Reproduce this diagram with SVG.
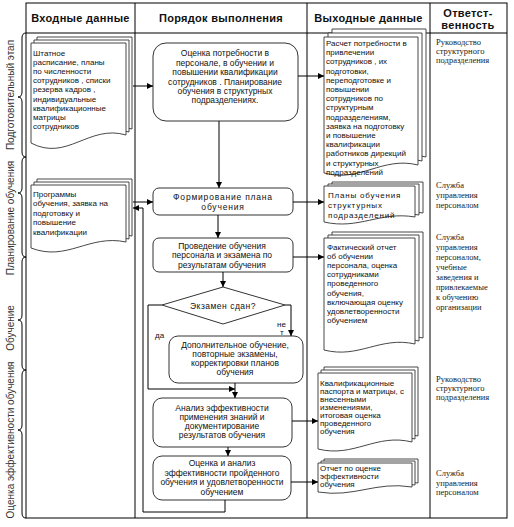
<svg xmlns="http://www.w3.org/2000/svg" width="514" height="527" viewBox="0 0 514 527">
<defs>
<style>
.fr{stroke:#000;stroke-width:1;fill:none}
.bx{fill:#fff;stroke:#333;stroke-width:1}
.pg{fill:#fff;stroke:#333;stroke-width:0.9}
.cn{stroke:#000;stroke-width:1;fill:none}
.t{font-family:"Liberation Sans",Arial,sans-serif;font-size:8px;fill:#111}
.tb{font-family:"Liberation Sans",Arial,sans-serif;font-size:8.5px;fill:#111;text-anchor:middle}
.h{font-family:"Liberation Sans",Arial,sans-serif;font-size:11px;font-weight:bold;fill:#111;text-anchor:middle;letter-spacing:0.3px}
.r{font-family:"Liberation Serif","Times New Roman",serif;font-size:8.5px;fill:#222}
.v{font-family:"Liberation Sans",Arial,sans-serif;font-size:10px;fill:#333;text-anchor:middle}
</style>
<marker id="ar" markerWidth="6" markerHeight="6" refX="6" refY="3" orient="auto" markerUnits="userSpaceOnUse">
<path d="M0,0 L6,3 L0,6 z" fill="#000"/>
</marker>
</defs>
<rect width="514" height="527" fill="#fff"/>

<g id="table">
<rect class="fr" x="26" y="3" width="481" height="515"/>
<line class="fr" x1="26" y1="33" x2="507" y2="33"/>
<line class="fr" x1="135" y1="3" x2="135" y2="518"/>
<line class="fr" x1="307" y1="3" x2="307" y2="518"/>
<line class="fr" x1="430" y1="3" x2="430" y2="518"/>
<text class="h" x="80.5" y="22">Входные данные</text>
<text class="h" x="221" y="22">Порядок выполнения</text>
<text class="h" x="368.5" y="22">Выходные данные</text>
<text class="h" x="468" y="17">Ответст-</text>
<text class="h" x="468" y="29">венность</text>
</g>

<g id="stages">
<path class="fr" d="M26,33 Q22,33 22,38 V92 Q22,97 18,97 Q22,97 22,102 V152 Q22,157 26,157 M26,157 Q22,157 22,162 V188 Q22,193 18,193 Q22,193 22,198 V252 Q22,257 26,257 M26,257 Q22,257 22,262 V315 Q22,320 18,320 Q22,320 22,325 V365 Q22,370 26,370 M26,370 Q22,370 22,375 V425 Q22,430 18,430 Q22,430 22,435 V513 Q22,518 26,518"/>
<text class="v" transform="translate(13.5,95) rotate(-90)">Подготовительный этап</text>
<text class="v" transform="translate(13.5,218) rotate(-90)">Планирование обучения</text>
<text class="v" transform="translate(13.5,328) rotate(-90)">Обучение</text>
<text class="v" transform="translate(13.5,440) rotate(-90)">Оценка эффективности обучения</text>
</g>

<g id="in1">
<path class="pg" d="M37,37 H132 V129 C95,118 73,156 37,137 Z"/>
<path class="pg" d="M34,40 H129 V132 C92,121 70,159 34,140 Z"/>
<path class="pg" d="M31,43 H126 V135 C89,124 67,162 31,143 Z"/>
<text class="t" x="33" y="56">Штатное</text>
<text class="t" x="33" y="65">расписание, планы</text>
<text class="t" x="33" y="74">по численности</text>
<text class="t" x="33" y="83">сотрудников , списки</text>
<text class="t" x="33" y="92">резерва кадров ,</text>
<text class="t" x="33" y="102">индивидуальные</text>
<text class="t" x="33" y="111">квалификационные</text>
<text class="t" x="33" y="120">матрицы</text>
<text class="t" x="33" y="129">сотрудников</text>
</g>

<g id="in2">
<path class="pg" d="M37,179 H132 V236 C95,228 73,256 37,242 Z"/>
<path class="pg" d="M34,182 H129 V239 C92,231 70,259 34,245 Z"/>
<path class="pg" d="M31,185 H126 V242 C89,234 67,262 31,248 Z"/>
<text class="t" x="33" y="197">Программы</text>
<text class="t" x="33" y="206">обучения, заявка на</text>
<text class="t" x="33" y="216">подготовку и</text>
<text class="t" x="33" y="225">повышение</text>
<text class="t" x="33" y="235">квалификации</text>
</g>

<g id="p1">
<rect class="bx" x="153" y="43" width="145" height="78" rx="13"/>
<text class="tb" x="225" y="56">Оценка потребности в</text>
<text class="tb" x="225" y="66">персонале, в обучении и</text>
<text class="tb" x="225" y="75">повышении квалификации</text>
<text class="tb" x="225" y="85">сотрудников . Планирование</text>
<text class="tb" x="225" y="94">обучения в структурных</text>
<text class="tb" x="225" y="103">подразделениях.</text>
</g>

<g id="p2">
<rect class="bx" x="153" y="188" width="140" height="27" rx="6"/>
<text class="tb" x="223" y="200" style="letter-spacing:0.8px">Формирование плана</text>
<text class="tb" x="223" y="210" style="letter-spacing:0.8px">обучения</text>
</g>

<g id="p3">
<rect class="bx" x="153" y="238" width="140" height="34" rx="6"/>
<text class="tb" x="222" y="249">Проведение обучения</text>
<text class="tb" x="222" y="258">персонала и экзамена по</text>
<text class="tb" x="222" y="268">результатам обучения</text>
</g>

<g id="dec">
<polygon class="bx" points="162,305 223,287 285,305 223,324"/>
<text class="tb" x="223" y="309" style="letter-spacing:0.5px">Экзамен сдан?</text>
</g>

<g id="p4">
<rect class="bx" x="169" y="336" width="134" height="47" rx="9"/>
<text class="tb" x="235" y="348">Дополнительное обучение,</text>
<text class="tb" x="235" y="357">повторные экзамены,</text>
<text class="tb" x="235" y="366">корректировки планов</text>
<text class="tb" x="235" y="375">обучения</text>
</g>

<g id="p5">
<rect class="bx" x="153" y="398" width="139" height="49" rx="9"/>
<text class="tb" x="222" y="411">Анализ эффективности</text>
<text class="tb" x="222" y="420">применения знаний и</text>
<text class="tb" x="222" y="429">документирование</text>
<text class="tb" x="222" y="438">результатов обучения</text>
</g>

<g id="p6">
<rect class="bx" x="153" y="456" width="138" height="44" rx="9"/>
<text class="tb" x="222" y="466">Оценка и анализ</text>
<text class="tb" x="222" y="475.5">эффективности пройденного</text>
<text class="tb" x="222" y="485">обучения и удовлетворенности</text>
<text class="tb" x="222" y="494.5">обучением</text>
</g>

<g id="outA">
<path class="pg" d="M332,29 H426 V157 C390,148 368,175 332,165 Z"/>
<path class="pg" d="M328,33 H422 V161 C386,152 364,179 328,169 Z"/>
<path class="pg" d="M324,37 H418 V165 C382,156 360,183 324,173 Z"/>
<text class="t" x="326" y="46">Расчет потребности в</text>
<text class="t" x="326" y="55">привлечении</text>
<text class="t" x="326" y="64">сотрудников , их</text>
<text class="t" x="326" y="74">подготовки,</text>
<text class="t" x="326" y="83">переподготовке и</text>
<text class="t" x="326" y="92">повышении</text>
<text class="t" x="326" y="101">сотрудников по</text>
<text class="t" x="326" y="110">структурным</text>
<text class="t" x="326" y="120">подразделениям,</text>
<text class="t" x="326" y="129">заявка на подготовку</text>
<text class="t" x="326" y="138">и повышение</text>
<text class="t" x="326" y="147">квалификации</text>
<text class="t" x="326" y="156">работников дирекций</text>
<text class="t" x="326" y="166">и структурных</text>
<text class="t" x="326" y="175">подразделений</text>
</g>

<g id="outB">
<path class="pg" d="M332,182 H423 V213 C388,207 367,226 332,218 Z"/>
<path class="pg" d="M328,184 H419 V215 C384,209 363,228 328,220 Z"/>
<path class="pg" d="M324,186 H415 V217 C380,211 359,230 324,222 Z"/>
<text class="t" x="328" y="198" style="letter-spacing:0.8px">Планы обучения</text>
<text class="t" x="328" y="208" style="letter-spacing:0.8px">структурных</text>
<text class="t" x="328" y="218" style="letter-spacing:0.8px">подразделений</text>
</g>

<g id="outC">
<path class="pg" d="M332,232 H423 V338 C388,330 367,353 332,344 Z"/>
<path class="pg" d="M328,235 H419 V341 C384,333 363,356 328,347 Z"/>
<path class="pg" d="M324,238 H415 V344 C380,336 359,359 324,350 Z"/>
<text class="t" x="327" y="250">Фактический отчет</text>
<text class="t" x="327" y="259">об обучении</text>
<text class="t" x="327" y="268">персонала, оценка</text>
<text class="t" x="327" y="277">сотрудниками</text>
<text class="t" x="327" y="286">проведенного</text>
<text class="t" x="327" y="296">обучения,</text>
<text class="t" x="327" y="305">включающая оценку</text>
<text class="t" x="327" y="314">удовлетворенности</text>
<text class="t" x="327" y="323">обучением</text>
</g>

<g id="outD">
<path class="pg" d="M324,367 H418 V436 C382,427 360,452 324,443 Z"/>
<path class="pg" d="M321,370 H415 V439 C379,430 357,455 321,446 Z"/>
<path class="pg" d="M318,373 H412 V442 C376,433 354,458 318,449 Z"/>
<text class="t" x="320" y="386">Квалификационные</text>
<text class="t" x="320" y="394">паспорта и матрицы, с</text>
<text class="t" x="320" y="402">внесенными</text>
<text class="t" x="320" y="410">изменениями,</text>
<text class="t" x="320" y="418">итоговая оценка</text>
<text class="t" x="320" y="426">проведенного</text>
<text class="t" x="320" y="434">обучения</text>
</g>

<g id="outE">
<path class="pg" d="M324,459 H418 V483 C382,477 360,494 324,488 Z"/>
<path class="pg" d="M321,461 H415 V485 C379,479 357,496 321,490 Z"/>
<path class="pg" d="M318,463 H412 V487 C376,481 354,498 318,492 Z"/>
<text class="t" x="320" y="471">Отчет по оценке</text>
<text class="t" x="320" y="479">эффективности</text>
<text class="t" x="320" y="487">обучения</text>
</g>

<g id="resp">
<text class="r" x="436" y="45">Руководство</text>
<text class="r" x="436" y="54">структурного</text>
<text class="r" x="436" y="63">подразделения</text>
<text class="r" x="436" y="188">Служба</text>
<text class="r" x="436" y="198">управления</text>
<text class="r" x="436" y="208">персоналом</text>
<text class="r" x="436" y="240">Служба</text>
<text class="r" x="436" y="250">управления</text>
<text class="r" x="436" y="260">персоналом,</text>
<text class="r" x="436" y="270">учебные</text>
<text class="r" x="436" y="280">заведения и</text>
<text class="r" x="436" y="290">привлекаемые</text>
<text class="r" x="436" y="300">к обучению</text>
<text class="r" x="436" y="310">организации</text>
<text class="r" x="436" y="382">Руководство</text>
<text class="r" x="436" y="391">структурного</text>
<text class="r" x="436" y="400">подразделения</text>
<text class="r" x="436" y="476">Служба</text>
<text class="r" x="436" y="485.5">управления</text>
<text class="r" x="436" y="495">персоналом</text>
</g>

<g id="connectors">
<path class="cn" d="M133,86 H153" marker-end="url(#ar)"/>
<path class="cn" d="M298,76 H324" marker-end="url(#ar)"/>
<path class="cn" d="M219,121 V188" marker-end="url(#ar)"/>
<path class="cn" d="M133,202 H153" marker-end="url(#ar)"/>
<path class="cn" d="M225,500 V512 H143 V208 H133" marker-end="url(#ar)"/>
<path class="cn" d="M293,202 H324" marker-end="url(#ar)"/>
<path class="cn" d="M218,215 V238" marker-end="url(#ar)"/>
<path class="cn" d="M293,257 H324" marker-end="url(#ar)"/>
<path class="cn" d="M223,272 V287" marker-end="url(#ar)"/>
<path class="cn" d="M285,305 H291 V336" marker-end="url(#ar)"/>
<path class="cn" d="M162,305 H148 V389 H235" marker-end="url(#ar)"/>
<path class="cn" d="M235,383 V398" marker-end="url(#ar)"/>
<path class="cn" d="M292,421 H318" marker-end="url(#ar)"/>
<path class="cn" d="M228,447 V456" marker-end="url(#ar)"/>
<path class="cn" d="M291,482 H318" marker-end="url(#ar)"/>
<text class="t" x="155" y="338">да</text>
<text class="t" x="277" y="327">не</text>
<text class="t" x="280" y="335">т</text>
</g>
</svg>
